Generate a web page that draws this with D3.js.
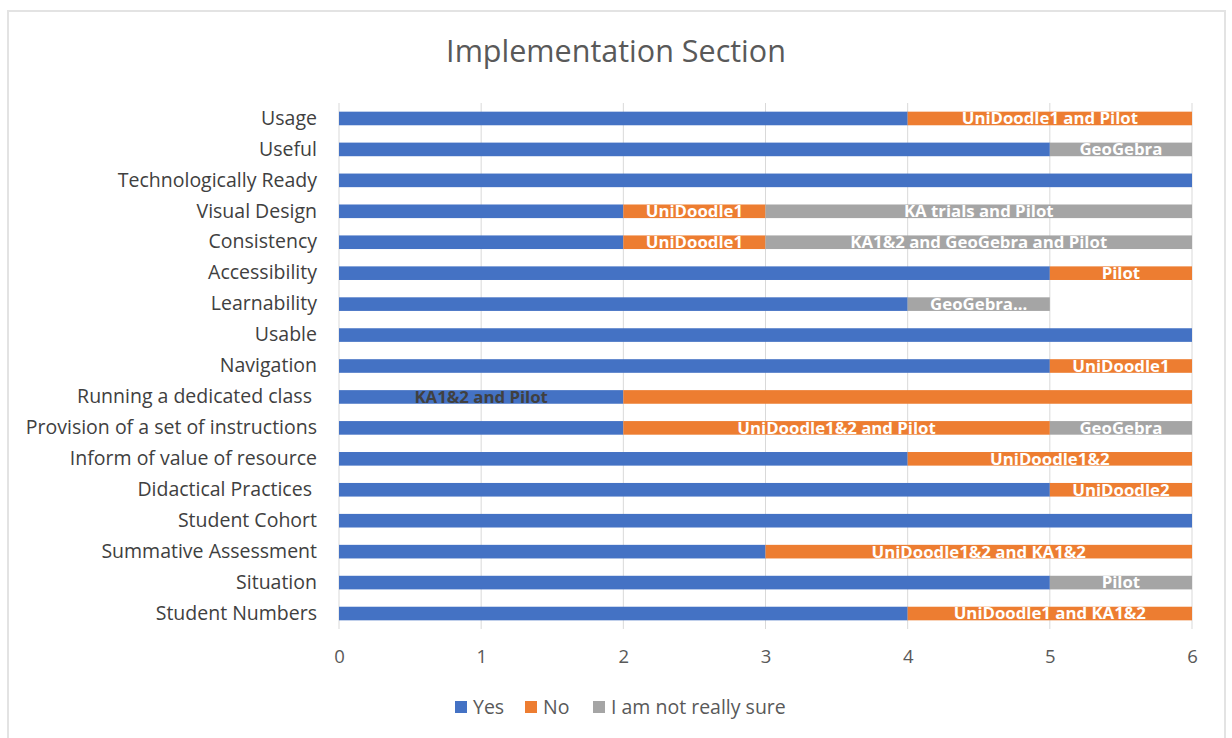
<!DOCTYPE html>
<html>
<head>
<meta charset="utf-8">
<script src="https://cdn.jsdelivr.net/npm/d3@7"></script>
<style>
  html, body { margin: 0; padding: 0; background: #fff; }
  svg { display: block; }
  text { font-family: "Open Sans", "Noto Sans", sans-serif; }
</style>
</head>
<body>
<svg id="chart" width="1232" height="738"></svg>
<script>
// ---- Data ----
const categories = [
  "Usage", "Useful", "Technologically Ready", "Visual Design", "Consistency",
  "Accessibility", "Learnability", "Usable", "Navigation", "Running a dedicated class ",
  "Provision of a set of instructions", "Inform of value of resource", "Didactical Practices ",
  "Student Cohort", "Summative Assessment", "Situation", "Student Numbers"
];
const seriesNames = ["Yes", "No", "I am not really sure"];
const yesValues    = [4, 5, 6, 2, 2, 5, 4, 6, 5, 2, 2, 4, 5, 6, 3, 5, 4];
const noValues     = [2, 0, 0, 1, 1, 1, 0, 0, 1, 4, 3, 2, 1, 0, 3, 0, 2];
const unsureValues = [0, 1, 0, 3, 3, 0, 1, 0, 0, 0, 1, 0, 0, 0, 0, 1, 0];
const yesLabels    = ["", "", "", "", "", "", "", "", "", "KA1&2 and Pilot", "", "", "", "", "", "", ""];
const noLabels     = ["UniDoodle1 and Pilot", "", "", "UniDoodle1", "UniDoodle1", "Pilot", "", "", "UniDoodle1", "", "UniDoodle1&2 and Pilot", "UniDoodle1&2", "UniDoodle2", "", "UniDoodle1&2 and KA1&2", "", "UniDoodle1 and KA1&2"];
const unsureLabels = ["", "GeoGebra", "", "KA trials and Pilot", "KA1&2 and GeoGebra and Pilot", "", "GeoGebra...", "", "", "", "GeoGebra", "", "", "", "", "Pilot", ""];
const xTicks = [0, 1, 2, 3, 4, 5, 6];
const title = "Implementation Section";

// ---- Layout ----
const colors = ["#4472C4", "#ED7D31", "#A5A5A5"];
const svg = d3.select("#chart");
const margin = { left: 339, right: 1192, top: 103, bottom: 629 };

// outer border
svg.append("path")
  .attr("d", "M8,740 L8,11 L1225,11 L1225,740")
  .attr("fill", "none").attr("stroke", "#e3e3e3").attr("stroke-width", 2);

const x = d3.scaleLinear().domain([0, 6]).range([margin.left, margin.right]);
const y = d3.scaleBand().domain(categories).range([margin.top, margin.bottom]).paddingInner(0.56).paddingOuter(0.28);

// gridlines
svg.append("g").selectAll("line").data(xTicks).join("line")
  .attr("x1", d => x(d)).attr("x2", d => x(d))
  .attr("y1", margin.top).attr("y2", margin.bottom)
  .attr("stroke", "#d9d9d9").attr("stroke-width", 1);

// x axis labels
const xAxis = d3.axisBottom(x).tickValues(xTicks).tickSize(0).tickPadding(0).tickFormat(d3.format("d"));
const gx = svg.append("g").attr("transform", `translate(0, 650)`).call(xAxis);
gx.select(".domain").remove();
gx.selectAll("text").attr("font-size", 18.5).attr("fill", "#595959")
  .attr("font-family", "'Open Sans', sans-serif");

// y axis labels
const yAxis = d3.axisLeft(y).tickSize(0).tickPadding(0);
const gy = svg.append("g").attr("transform", `translate(317,0)`).call(yAxis);
gy.select(".domain").remove();
gy.selectAll("text").attr("font-size", 19.5).attr("fill", "#404040")
  .attr("font-family", "'Open Sans', sans-serif").style("white-space", "pre");

// stacked data
const rows = categories.map((c, i) => ({
  cat: c, Yes: yesValues[i], No: noValues[i], "I am not really sure": unsureValues[i],
  labels: [yesLabels[i], noLabels[i], unsureLabels[i]]
}));
const stack = d3.stack().keys(seriesNames)(rows);

const gBars = svg.append("g");
stack.forEach((layer, si) => {
  gBars.append("g").attr("fill", colors[si]).selectAll("rect")
    .data(layer.filter(d => d[1] - d[0] > 0)).join("rect")
    .attr("x", d => x(d[0]))
    .attr("y", d => y(d.data.cat))
    .attr("width", d => x(d[1]) - x(d[0]))
    .attr("height", y.bandwidth());
});
// labels
stack.forEach((layer, si) => {
  gBars.append("g").selectAll("text")
    .data(layer.filter(d => d.data.labels[si])).join("text")
    .attr("x", d => x((d[0] + d[1]) / 2))
    .attr("y", d => y(d.data.cat) + y.bandwidth() / 2)
    .attr("dy", "0.35em")
    .attr("text-anchor", "middle")
    .attr("font-size", 16.8).attr("font-weight", "bold")
    .attr("fill", si === 0 ? "#404040" : "#ffffff")
    .text(d => d.data.labels[si]);
});

// title
svg.append("text").attr("x", 616).attr("y", 62).attr("text-anchor", "middle")
  .attr("font-size", 30.5).attr("fill", "#595959").text(title);

// legend
const legendX = [455, 525, 593];
const lg = svg.append("g").selectAll("g").data(seriesNames).join("g")
  .attr("transform", (d, i) => `translate(${legendX[i]}, 701)`);
lg.append("rect").attr("width", 12).attr("height", 12).attr("fill", (d, i) => colors[i]);
lg.append("text").attr("x", 18).attr("y", 6).attr("dy", "0.35em")
  .attr("font-size", 19.5).attr("fill", "#595959").text(d => d);
</script>
</body>
</html>
